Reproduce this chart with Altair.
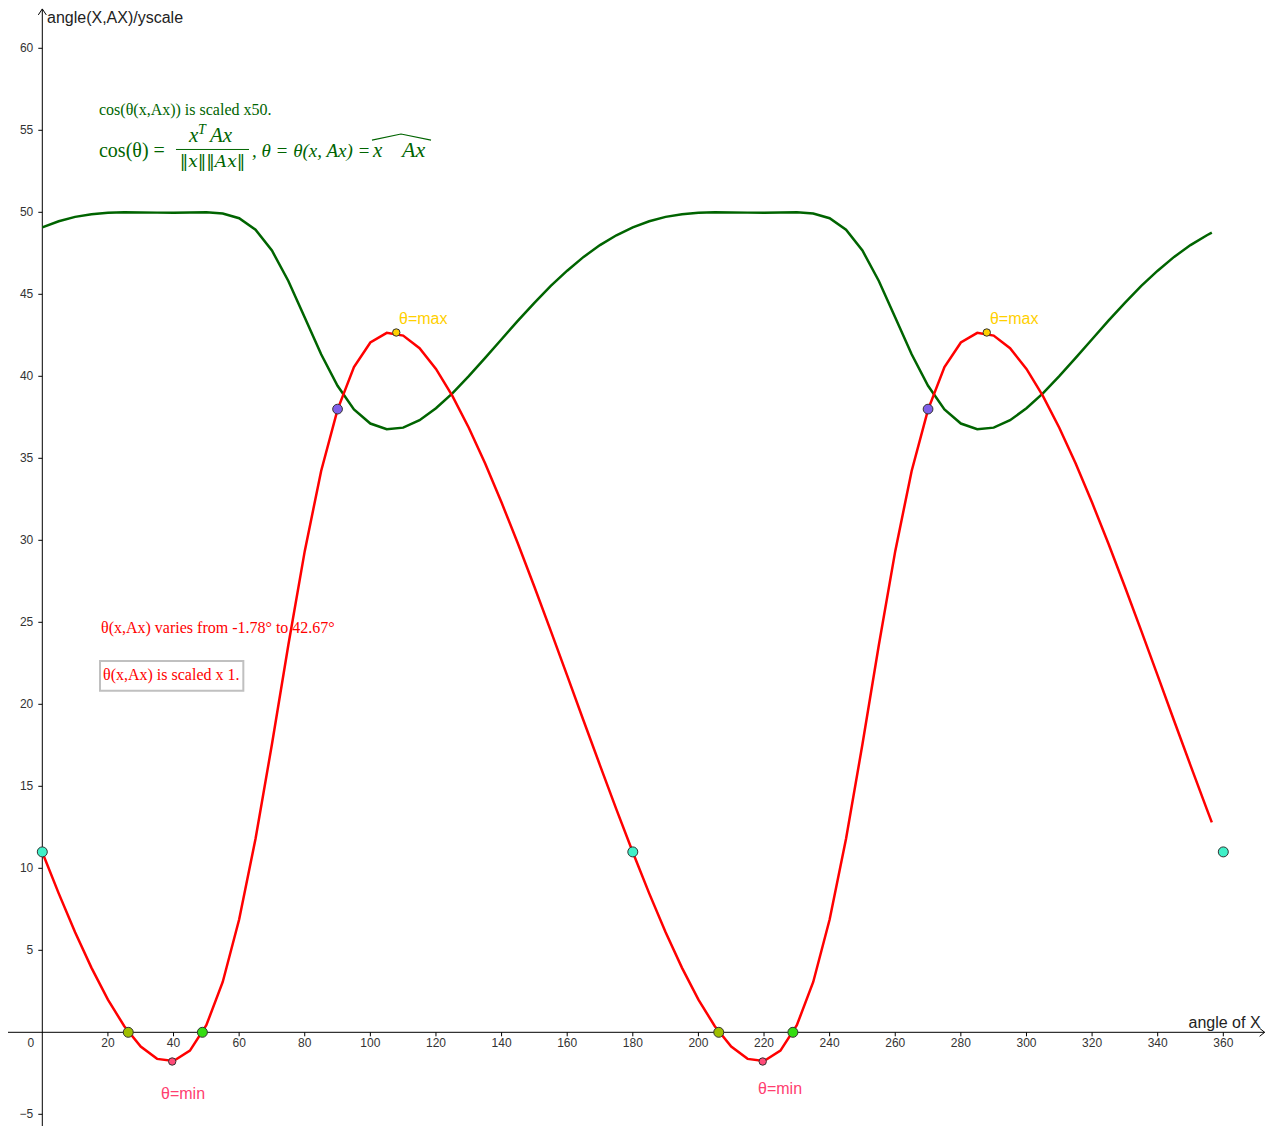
import altair as alt
import pandas as pd

# ---------------- data ----------------
angle_x = [0, 5, 10, 15, 20, 25, 30, 35, 40, 45, 50, 55, 60, 65, 70, 75, 80, 85,
           90, 95, 100, 105, 110, 115, 120, 125, 130, 135, 140, 145, 150, 155, 160, 165, 170, 175,
           180, 185, 190, 195, 200, 205, 210, 215, 220, 225, 230, 235, 240, 245, 250, 255, 260, 265,
           270, 275, 280, 285, 290, 295, 300, 305, 310, 315, 320, 325, 330, 335, 340, 345, 350, 355,
           356.5]

theta_deg = [10.98, 8.47, 6.10, 3.93, 1.99, 0.37, -0.87, -1.62, -1.75, -1.12, 0.43, 3.07,
             6.88, 11.80, 17.56, 23.62, 29.34, 34.23, 37.97, 40.56, 42.06, 42.65, 42.48, 41.71,
             40.45, 38.81, 36.86, 34.68, 32.30, 29.79, 27.17, 24.48, 21.75, 19.00, 16.28, 13.59,
             10.98, 8.47, 6.10, 3.93, 1.99, 0.37, -0.87, -1.62, -1.75, -1.12, 0.43, 3.07,
             6.88, 11.80, 17.56, 23.62, 29.34, 34.23, 37.97, 40.56, 42.06, 42.65, 42.48, 41.71,
             40.45, 38.81, 36.86, 34.68, 32.30, 29.79, 27.17, 24.48, 21.75, 19.00, 16.28, 13.59,
             12.80]

cos_theta_x50 = [49.08, 49.45, 49.72, 49.88, 49.97, 50.00, 49.99, 49.98, 49.98, 49.99, 50.00, 49.93,
                 49.64, 48.94, 47.67, 45.81, 43.59, 41.34, 39.42, 37.98, 37.12, 36.77, 36.87, 37.32,
                 38.05, 38.96, 40.01, 41.12, 42.26, 43.39, 44.48, 45.51, 46.44, 47.28, 48.00, 48.60,
                 49.08, 49.45, 49.72, 49.88, 49.97, 50.00, 49.99, 49.98, 49.98, 49.99, 50.00, 49.93,
                 49.64, 48.94, 47.67, 45.81, 43.59, 41.34, 39.42, 37.98, 37.12, 36.77, 36.87, 37.32,
                 38.05, 38.96, 40.01, 41.12, 42.26, 43.39, 44.48, 45.51, 46.44, 47.28, 48.00, 48.60,
                 48.76]

# special points
start_x, start_y = [0, 180, 360], [11, 11, 11]
zero_a_x, zero_a_y = [26.2, 206.2], [0, 0]
zero_b_x, zero_b_y = [48.8, 228.8], [0, 0]
min_x, min_y = [39.6, 219.6], [-1.78, -1.78]
quarter_x, quarter_y = [90, 270], [38, 38]
max_x, max_y = [107.9, 287.9], [42.67, 42.67]

x_ticks = [20, 40, 60, 80, 100, 120, 140, 160, 180, 200, 220, 240, 260, 280, 300, 320, 340, 360]
x_tick_labels = ["20", "40", "60", "80", "100", "120", "140", "160", "180", "200", "220", "240",
                 "260", "280", "300", "320", "340", "360"]
y_ticks = [-5, 5, 10, 15, 20, 25, 30, 35, 40, 45, 50, 55, 60]
y_tick_labels = ["\u22125", "5", "10", "15", "20", "25", "30", "35", "40", "45", "50", "55", "60"]

# ---------------- scales / layout ----------------
W, H = 1257, 1118
X_DOMAIN = [-10.455, 372.71]
Y_DOMAIN = [-5.713, 62.457]
xs = alt.Scale(domain=X_DOMAIN, nice=False, zero=False)
ys = alt.Scale(domain=Y_DOMAIN, nice=False, zero=False)
PX_X = (X_DOMAIN[1] - X_DOMAIN[0]) / W   # data units per pixel, x
PX_Y = (Y_DOMAIN[1] - Y_DOMAIN[0]) / H   # data units per pixel, y
X_END = 372.6
Y_END = 62.40

SANS = "Liberation Sans, Arial, sans-serif"
SERIF = "Liberation Serif, DejaVu Serif, serif"
GREEN = "#006400"
RED = "#FF0000"
GOLD = "#FFD000"
PINK = "#FF4070"
AXIS_TXT = "#333333"


def XY(xf="x", yf="y"):
    return dict(x=alt.X(f"{xf}:Q", scale=xs, axis=None), y=alt.Y(f"{yf}:Q", scale=ys, axis=None))


layers = []

# ---- axes drawn as marks (GeoGebra style, crossing at the origin) ----
axis_lines = pd.DataFrame({
    "x": [X_DOMAIN[0], 0.0], "x2": [X_END, 0.0],
    "y": [0.0, Y_DOMAIN[0]], "y2": [0.0, Y_END],
})
layers.append(alt.Chart(axis_lines).mark_rule(color="#000000", strokeWidth=1).encode(
    x=alt.X("x:Q", scale=xs, axis=None), x2="x2:Q",
    y=alt.Y("y:Q", scale=ys, axis=None), y2="y2:Q"))

xt = pd.DataFrame({"x": x_ticks, "y": [0.0] * len(x_ticks), "y2": [-4 * PX_Y] * len(x_ticks),
                   "t": x_tick_labels, "ly": [-15 * PX_Y] * len(x_ticks)})
layers.append(alt.Chart(xt).mark_rule(color="#000000", strokeWidth=1).encode(
    x=alt.X("x:Q", scale=xs, axis=None), y=alt.Y("y:Q", scale=ys, axis=None), y2="y2:Q"))
layers.append(alt.Chart(xt).mark_text(font=SANS, fontSize=12, color=AXIS_TXT, align="center",
                                      baseline="alphabetic").encode(
    text="t:N", **XY("x", "ly")))

yt = pd.DataFrame({"y": y_ticks, "x": [0.0] * len(y_ticks), "x2": [-4 * PX_X] * len(y_ticks),
                   "t": y_tick_labels, "lx": [-9 * PX_X] * len(y_ticks)})
layers.append(alt.Chart(yt).mark_rule(color="#000000", strokeWidth=1).encode(
    x=alt.X("x:Q", scale=xs, axis=None), x2="x2:Q", y=alt.Y("y:Q", scale=ys, axis=None)))
layers.append(alt.Chart(yt).mark_text(font=SANS, fontSize=12, color=AXIS_TXT, align="right",
                                      baseline="middle").encode(
    text="t:N", **XY("lx", "y")))

# axis arrows
arrows = pd.DataFrame({
    "x": [-4 * PX_X, 0, 4 * PX_X, X_END - 5 * PX_X, X_END, X_END - 5 * PX_X],
    "y": [Y_END - 6 * PX_Y, Y_END, Y_END - 6 * PX_Y, 4 * PX_Y, 0, -4 * PX_Y],
    "seg": ["a", "a", "a", "b", "b", "b"],
    "o": [0, 1, 2, 0, 1, 2],
})
layers.append(alt.Chart(arrows).mark_line(color="#000000", strokeWidth=1, clip=False).encode(
    detail="seg:N", order="o:Q", **XY()))

# ---- curves ----
curves = pd.DataFrame({"x": angle_x, "theta": theta_deg, "cos50": cos_theta_x50})
layers.append(alt.Chart(curves).mark_line(color=GREEN, strokeWidth=2.5).encode(**XY("x", "cos50")))
layers.append(alt.Chart(curves).mark_line(color=RED, strokeWidth=2.5).encode(**XY("x", "theta")))

# ---- special points ----
point_sets = [
    (start_x, start_y, "#40F0C8", 100),
    (zero_a_x, zero_a_y, "#9FBF00", 100),
    (zero_b_x, zero_b_y, "#33DD11", 100),
    (min_x, min_y, "#FF4A78", 55),
    (quarter_x, quarter_y, "#7F5FE8", 95),
    (max_x, max_y, GOLD, 55),
]
for px, py, col, sz in point_sets:
    df = pd.DataFrame({"x": px, "y": py})
    layers.append(alt.Chart(df).mark_circle(color=col, size=sz, opacity=1, stroke="#333333",
                                             strokeWidth=1, clip=False).encode(**XY()))

# ---- box around the scale note ----
box = pd.DataFrame({"x": [17.59], "x2": [61.28], "y": [20.83], "y2": [22.64]})
layers.append(alt.Chart(box).mark_rect(fill="white", stroke="#C0C0C0", strokeWidth=2).encode(
    x=alt.X("x:Q", scale=xs, axis=None), x2="x2:Q",
    y=alt.Y("y:Q", scale=ys, axis=None), y2="y2:Q"))

# ---- formula decorations ----
bar = pd.DataFrame({"x": [40.75], "x2": [63.01], "y": [53.83]})
layers.append(alt.Chart(bar).mark_rule(color=GREEN, strokeWidth=1).encode(
    x=alt.X("x:Q", scale=xs, axis=None), x2="x2:Q", y=alt.Y("y:Q", scale=ys, axis=None)))

hat = pd.DataFrame({"x": [100.5, 109.34, 118.49], "y": [54.40, 54.77, 54.40], "o": [0, 1, 2]})
layers.append(alt.Chart(hat).mark_line(color=GREEN, strokeWidth=1.1).encode(
    order="o:Q", **XY()))

# ---- texts: (text, x, y, font, size, style, color, align) ----
texts = [
    ("cos(θ(x,Ax)) is scaled x50.", 17.28, 55.93, SERIF, 16, "normal", GREEN, "left"),
    ("cos(θ) =", 17.28, 53.37, SERIF, 20, "normal", GREEN, "left"),
    ("x", 44.72, 54.29, SERIF, 21, "italic", GREEN, "left"),
    ("T", 47.46, 54.78, SERIF, 14, "italic", GREEN, "left"),
    ("Ax", 54.47, 54.29, SERIF, 21, "italic", GREEN, "center"),
    ("‖x‖‖Ax‖", 51.88, 52.76, "DejaVu Serif, serif", 17, "italic", GREEN, "center"),
    (", θ = θ(x, Ax) =", 63.92, 53.37, SERIF, 19, "italic", GREEN, "left"),
    ("x", 100.79, 53.37, SERIF, 21, "italic", GREEN, "left"),
    ("Ax", 113.2, 53.37, SERIF, 22, "italic", GREEN, "center"),
    ("θ(x,Ax) varies from -1.78° to 42.67°", 17.89, 24.33, SERIF, 16, "normal", RED, "left"),
    ("θ(x,Ax) is scaled x 1.", 18.5, 21.48, SERIF, 16, "normal", RED, "left"),
    ("θ=max", 108.74, 43.19, SANS, 16, "normal", GOLD, "left"),
    ("θ=max", 288.87, 43.19, SANS, 16, "normal", GOLD, "left"),
    ("θ=min", 36.19, -4.07, SANS, 16, "normal", PINK, "left"),
    ("θ=min", 218.17, -3.77, SANS, 16, "normal", PINK, "left"),
    ("angle(X,AX)/yscale", 1.43, 61.55, SANS, 16, "normal", "#222222", "left"),
    ("angle of X", 349.4, 0.29, SANS, 16, "normal", "#222222", "left"),
    ("0", -3.51, -0.915, SANS, 12, "normal", AXIS_TXT, "center"),
]
for t, tx, ty, font, fs, style, col, al in texts:
    df = pd.DataFrame({"x": [tx], "y": [ty], "t": [t]})
    layers.append(alt.Chart(df).mark_text(font=font, fontSize=fs, fontStyle=style, color=col,
                                           align=al, baseline="alphabetic", clip=False).encode(
        text="t:N", **XY()))

chart = alt.layer(*layers).properties(
    width=W, height=H, padding=0, autosize=alt.AutoSizeParams(type="none"),
    background="white",
).configure_view(stroke=None)

chart.save("out.html", embed_options={"renderer": "svg", "actions": False})
